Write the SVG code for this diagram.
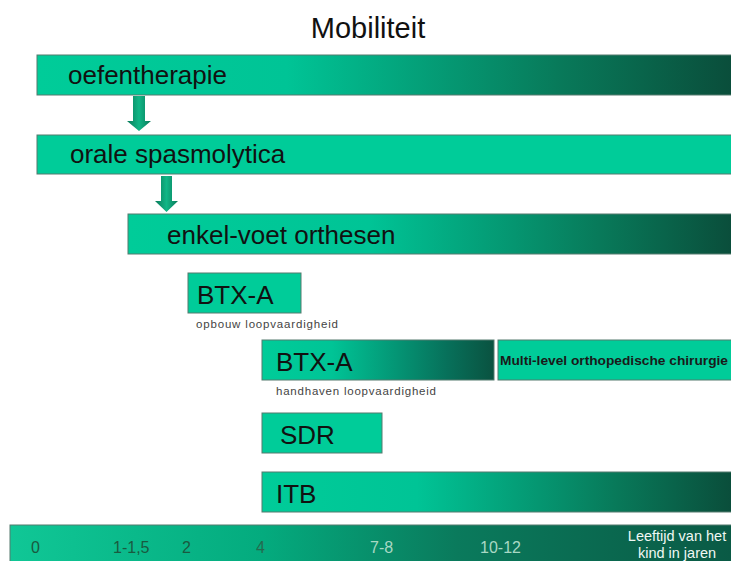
<svg xmlns="http://www.w3.org/2000/svg" width="731" height="561" viewBox="0 0 731 561">
<defs>
<linearGradient id="g1" gradientUnits="userSpaceOnUse" x1="37" y1="0" x2="731" y2="0"><stop offset="0" stop-color="#00cc99"/><stop offset="0.36" stop-color="#00c496"/><stop offset="0.75" stop-color="#087a5a"/><stop offset="1" stop-color="#0a4e3b"/></linearGradient>
<linearGradient id="g3" gradientUnits="userSpaceOnUse" x1="128" y1="0" x2="731" y2="0"><stop offset="0" stop-color="#00cc99"/><stop offset="0.4" stop-color="#00c496"/><stop offset="0.78" stop-color="#087a5a"/><stop offset="1" stop-color="#0a4e3b"/></linearGradient>
<linearGradient id="gb" gradientUnits="userSpaceOnUse" x1="262" y1="0" x2="494" y2="0"><stop offset="0" stop-color="#00cc99"/><stop offset="0.3" stop-color="#00c496"/><stop offset="0.8" stop-color="#07705a"/><stop offset="1" stop-color="#0a5240"/></linearGradient>
<linearGradient id="gi" gradientUnits="userSpaceOnUse" x1="262" y1="0" x2="731" y2="0"><stop offset="0" stop-color="#00cc99"/><stop offset="0.33" stop-color="#00c496"/><stop offset="0.75" stop-color="#087a5a"/><stop offset="1" stop-color="#0a4e3b"/></linearGradient>
<linearGradient id="ga" gradientUnits="userSpaceOnUse" x1="10" y1="0" x2="731" y2="0"><stop offset="0" stop-color="#10c796"/><stop offset="0.35" stop-color="#04ab7e"/><stop offset="0.62" stop-color="#0a7a5c"/><stop offset="1" stop-color="#0a5a45"/></linearGradient>
<linearGradient id="garr" x1="0" y1="0" x2="1" y2="0"><stop offset="0" stop-color="#0a7a5a"/><stop offset="0.5" stop-color="#10b686"/><stop offset="1" stop-color="#0a7a5a"/></linearGradient>
<style>
.box{stroke:#557a6e;stroke-width:1}
.solid{fill:#00cc99}
.big{font-family:"Liberation Sans",Arial,sans-serif;font-size:26px;fill:#111}
.small{font-family:"Liberation Sans",Arial,sans-serif;font-size:11.5px;fill:#444}
.ax{font-family:"Liberation Sans",Arial,sans-serif;font-size:16px}
.arr{fill:url(#garr)}
</style>
</defs>
<text x="368" y="38" text-anchor="middle" font-family="Liberation Sans, Arial, sans-serif" font-size="29" fill="#111">Mobiliteit</text>
<g id="oefentherapie"><rect class="box" x="37" y="55" width="700" height="40" fill="url(#g1)"/><text class="big" x="68" y="84">oefentherapie</text></g>
<g id="orale"><rect class="box solid" x="37" y="135" width="700" height="39"/><text class="big" x="70" y="163">orale spasmolytica</text></g>
<g id="enkelvoet"><rect class="box" x="128" y="214" width="610" height="40" fill="url(#g3)"/><text class="big" x="167" y="244">enkel-voet orthesen</text></g>
<g id="btxa1"><rect class="box solid" x="188" y="273" width="113" height="40"/><text class="big" x="197" y="304">BTX-A</text><text class="small" x="196" y="328" textLength="142" lengthAdjust="spacing">opbouw loopvaardigheid</text></g>
<g id="btxa2"><rect class="box" x="262" y="340" width="232" height="40" fill="url(#gb)"/><text class="big" x="276" y="371">BTX-A</text><text class="small" x="276" y="395" textLength="160" lengthAdjust="spacing">handhaven loopvaardigheid</text></g>
<g id="mlo"><rect class="box solid" x="498" y="340" width="240" height="40"/><text x="500" y="365" font-family="Liberation Sans, Arial, sans-serif" font-size="13.5" font-weight="bold" fill="#1a1a1a" textLength="228" lengthAdjust="spacingAndGlyphs">Multi-level orthopedische chirurgie</text></g>
<g id="sdr"><rect class="box solid" x="262" y="413" width="120" height="40"/><text class="big" x="280" y="444">SDR</text></g>
<g id="itb"><rect class="box" x="262" y="472" width="476" height="40" fill="url(#gi)"/><text class="big" x="276" y="503">ITB</text></g>
<g id="axis"><rect class="box" x="10" y="525" width="730" height="40" fill="url(#ga)"/>
<text class="ax" x="31" y="553" fill="#1a5a40">0</text>
<text class="ax" x="113" y="553" fill="#1a5a40">1-1,5</text>
<text class="ax" x="182" y="553" fill="#1a5a40">2</text>
<text class="ax" x="256" y="553" fill="#246a4e">4</text>
<text class="ax" x="370" y="553" fill="#a8d8c4">7-8</text>
<text class="ax" x="480" y="553" fill="#a8d8c4">10-12</text>
<text x="677" y="541" text-anchor="middle" font-family="Liberation Sans, Arial, sans-serif" font-size="14.5" fill="#f0f8f4">Leeftijd van het</text>
<text x="677" y="558" text-anchor="middle" font-family="Liberation Sans, Arial, sans-serif" font-size="14.5" fill="#f0f8f4">kind in jaren</text>
</g>
<g id="connectors">
<path class="arr" d="M133 96 H145 V121 H151 L139 131 L127 121 H133 Z"/>
<path class="arr" d="M161 176 H172 V201 H178 L166.5 212 L155 201 H161 Z"/>
</g>
</svg>
